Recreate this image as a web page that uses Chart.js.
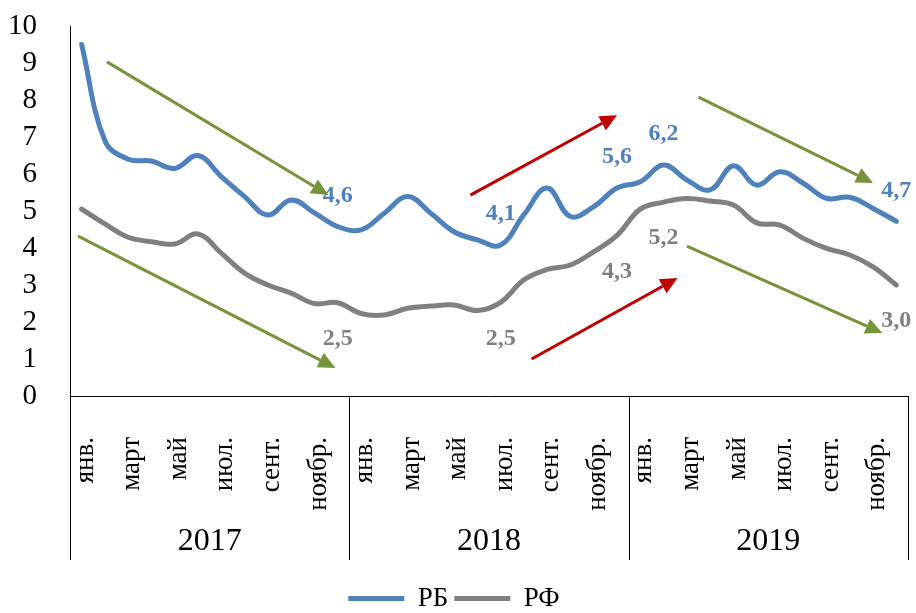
<!DOCTYPE html>
<html>
<head>
<meta charset="utf-8">
<script src="https://cdn.jsdelivr.net/npm/chart.js@4.4.1/dist/chart.umd.min.js"></script>
<style>
  html, body { margin: 0; padding: 0; background: #fff; }
</style>
</head>
<body>
<canvas id="chart" width="916" height="613"></canvas>
<script>
// months / years
const monthNames = ['янв.', 'февр.', 'март', 'апр.', 'май', 'июнь', 'июл.', 'авг.', 'сент.', 'окт.', 'ноябр.', 'дек.'];
const years = ['2017', '2018', '2019'];

// series values, jan 2017 .. dec 2019
const rbValues = [9.5, 6.9, 6.4, 6.35, 6.15, 6.5, 5.93, 5.39, 4.89, 5.3, 4.95, 4.58,
                  4.49, 4.94, 5.39, 4.94, 4.44, 4.22, 4.08, 4.9, 5.62, 4.85, 5.12, 5.62,
                  5.79, 6.24, 5.84, 5.57, 6.22, 5.7, 6.06, 5.75, 5.34, 5.37, 5.07, 4.72];
const rfValues = [5.05, 4.65, 4.29, 4.17, 4.11, 4.38, 3.86, 3.32, 3.0, 2.78, 2.5, 2.52,
                  2.23, 2.19, 2.37, 2.43, 2.46, 2.31, 2.53, 3.14, 3.42, 3.54, 3.9, 4.34,
                  5.05, 5.24, 5.34, 5.27, 5.16, 4.68, 4.62, 4.26, 3.99, 3.81, 3.49, 3.0];

// which points get a value label
const rbLabelIdx = [11, 18, 23, 25, 35];
const rfLabelIdx = [11, 18, 23, 25, 35];

// trend arrows in data space: [category index, value]
const arrowFrom = [[1.09, 9.03], [-0.15, 4.32], [16.7, 5.43], [19.33, 1.0], [26.5, 8.08], [26.0, 4.05]];
const arrowTo   = [[10.6, 5.43], [10.9, 0.76], [23.0, 7.59], [25.6, 3.19], [34.0, 5.76], [34.4, 1.70]];
const arrowKind = ['down', 'down', 'up', 'up', 'down', 'down'];

const BLUE = '#4F81BD';
const GRAY = '#808080';
const GREEN = '#77933C';
const RED = '#C00000';
const SERIF = '"Liberation Serif", "Times New Roman", serif';

const labels = [];
years.forEach(y => monthNames.forEach(m => labels.push(m)));

// value labels and arrows
const overlayPlugin = {
  id: 'overlay',
  afterDatasetsDraw(chart) {
    const ctx = chart.ctx;
    const x = chart.scales.x, y = chart.scales.y;
    ctx.save();
    ctx.font = 'bold 24px ' + SERIF;
    ctx.textAlign = 'center';
    ctx.textBaseline = 'middle';
    const sets = [[0, rbLabelIdx, BLUE, -31], [1, rfLabelIdx, GRAY, 36]];
    sets.forEach(([di, idx, color, dy]) => {
      const meta = chart.getDatasetMeta(di);
      const vals = chart.data.datasets[di].data;
      ctx.fillStyle = color;
      idx.forEach(i => {
        const pt = meta.data[i];
        ctx.fillText(vals[i].toFixed(1).replace('.', ','), pt.x, pt.y + dy);
      });
    });

    arrowFrom.forEach((a, k) => {
      const x1 = x.getPixelForValue(a[0]), y1 = y.getPixelForValue(a[1]);
      const x2 = x.getPixelForValue(arrowTo[k][0]), y2 = y.getPixelForValue(arrowTo[k][1]);
      const col = arrowKind[k] === 'up' ? RED : GREEN;
      const ang = Math.atan2(y2 - y1, x2 - x1);
      const hl = 17, hw = 8;
      const bx = x2 - hl * Math.cos(ang), by = y2 - hl * Math.sin(ang);
      ctx.strokeStyle = col;
      ctx.fillStyle = col;
      ctx.lineWidth = 3;
      ctx.beginPath();
      ctx.moveTo(x1, y1);
      ctx.lineTo(bx, by);
      ctx.stroke();
      ctx.beginPath();
      ctx.moveTo(x2, y2);
      ctx.lineTo(bx + hw * Math.sin(ang), by - hw * Math.cos(ang));
      ctx.lineTo(bx - hw * Math.sin(ang), by + hw * Math.cos(ang));
      ctx.closePath();
      ctx.fill();
    });
    ctx.restore();
  }
};

// year row under the month labels
const yearPlugin = {
  id: 'years',
  afterDraw(chart) {
    const ctx = chart.ctx;
    const x = chart.scales.x, y = chart.scales.y;
    const y0 = y.getPixelForValue(0);
    ctx.save();
    ctx.strokeStyle = '#000';
    ctx.lineWidth = 1;
    for (let k = 0; k <= years.length; k++) {
      const px = Math.round(x.getPixelForValue(k * 12 - 0.5)) + 0.5;
      ctx.beginPath();
      ctx.moveTo(px, y0);
      ctx.lineTo(px, y0 + 164);
      ctx.stroke();
    }
    ctx.font = '32px ' + SERIF;
    ctx.fillStyle = '#000';
    ctx.textAlign = 'center';
    ctx.textBaseline = 'middle';
    years.forEach((yr, k) => {
      ctx.fillText(yr, x.getPixelForValue(k * 12 + 5.5), y0 + 146);
    });
    ctx.restore();
  }
};

const ctx = document.getElementById('chart').getContext('2d');
new Chart(ctx, {
  type: 'line',
  data: {
    labels: labels,
    datasets: [
      { label: 'РБ', data: rbValues, borderColor: BLUE, backgroundColor: BLUE,
        borderWidth: 5, pointRadius: 0, tension: 0.4, borderCapStyle: 'round', borderJoinStyle: 'round' },
      { label: 'РФ', data: rfValues, borderColor: GRAY, backgroundColor: GRAY,
        borderWidth: 5, pointRadius: 0, tension: 0.4, borderCapStyle: 'round', borderJoinStyle: 'round' }
    ]
  },
  options: {
    responsive: false,
    animation: false,
    layout: { padding: { top: 26, right: 8, left: 0, bottom: -9 } },
    plugins: {
      tooltip: { enabled: false },
      legend: {
        position: 'bottom',
        labels: {
          usePointStyle: true,
          pointStyle: 'line',
          pointStyleWidth: 56,
          boxHeight: 5,
          padding: 6,
          color: '#000',
          font: { family: SERIF, size: 27 }
        }
      }
    },
    scales: {
      x: {
        offset: true,
        grid: { display: false },
        border: { display: true, color: '#000', width: 1 },
        ticks: {
          autoSkip: false,
          minRotation: 90,
          maxRotation: 90,
          padding: 33,
          labelOffset: 4,
          color: '#000',
          font: { family: SERIF, size: 27 },
          callback: function (val, i) { return i % 2 === 0 ? labels[i] : ''; }
        },
        afterFit: function (s) { s.height = 183; s.paddingLeft = 0; s.paddingRight = 0; }
      },
      y: {
        min: 0,
        max: 10,
        grid: { display: false },
        border: { display: true, color: '#000', width: 1 },
        ticks: {
          stepSize: 1,
          autoSkip: false,
          padding: 25,
          color: '#000',
          font: { family: SERIF, size: 29 }
        },
        afterFit: function (s) { s.width = 70; s.paddingTop = 0; s.paddingBottom = 0; }
      }
    }
  },
  plugins: [overlayPlugin, yearPlugin]
});
</script>
</body>
</html>
